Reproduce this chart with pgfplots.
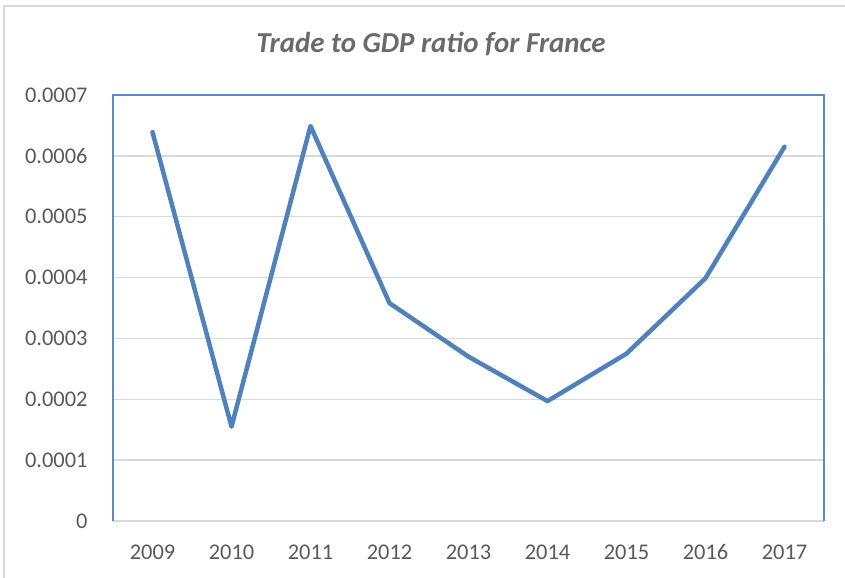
\documentclass[border=0pt]{standalone}
\usepackage{fontspec}
\setmainfont{Carlito}
\usepackage{pgfplots}
\pgfplotsset{compat=1.18}
\definecolor{lineblue}{HTML}{4F81BD}
\definecolor{frameblue}{HTML}{5B8ACB}
\definecolor{gridgray}{HTML}{D9D9D9}
\definecolor{txtgray}{HTML}{595959}
\definecolor{titlegray}{HTML}{6A6A6A}
\begin{document}
\begin{tikzpicture}[x=1bp,y=1bp]
\useasboundingbox (0,0) rectangle (845,578);
\draw[gridgray, line width=1.5bp] (4,0) -- (4,572) -- (845,572);
\node[font=\fontsize{29}{31}\selectfont\bfseries\itshape, text=titlegray, inner sep=0pt] at (431,534) {Trade to GDP ratio for France};
\begin{axis}[
  at={(113bp,57bp)}, anchor=south west,
  scale only axis, width=711bp, height=426bp,
  xmin=-0.5, xmax=8.5, ymin=0, ymax=0.0007,
  scaled y ticks=false,
  xtick={0,...,8},
  xticklabels={2009,2010,2011,2012,2013,2014,2015,2016,2017},
  ytick={0,0.0001,0.0002,0.0003,0.0004,0.0005,0.0006,0.0007},
  yticklabels={0,0.0001,0.0002,0.0003,0.0004,0.0005,0.0006,0.0007},
  major tick length=0pt,
  axis line style={draw=none},
  ymajorgrids, grid style={gridgray, line width=1.5bp},
  tick label style={font=\fontsize{22.5}{24}\selectfont, text=txtgray},
  yticklabel style={xshift=-22bp},
  xticklabel style={yshift=-20bp},
  clip=false,
]
\draw[gridgray, line width=2bp] (rel axis cs:0,0) -- (rel axis cs:1,0);
\draw[frameblue, line width=1.2bp] (rel axis cs:0,0) -- (rel axis cs:0,1) -- (rel axis cs:1,1) -- (rel axis cs:1,0);
\addplot[lineblue, line width=4.5bp, line join=round, line cap=round] coordinates {
(0,0.000639) (1,0.000155) (2,0.000649) (3,0.000358) (4,0.000270)
(5,0.000197) (6,0.000275) (7,0.000399) (8,0.000615)
};
\end{axis}
\end{tikzpicture}
\end{document}
